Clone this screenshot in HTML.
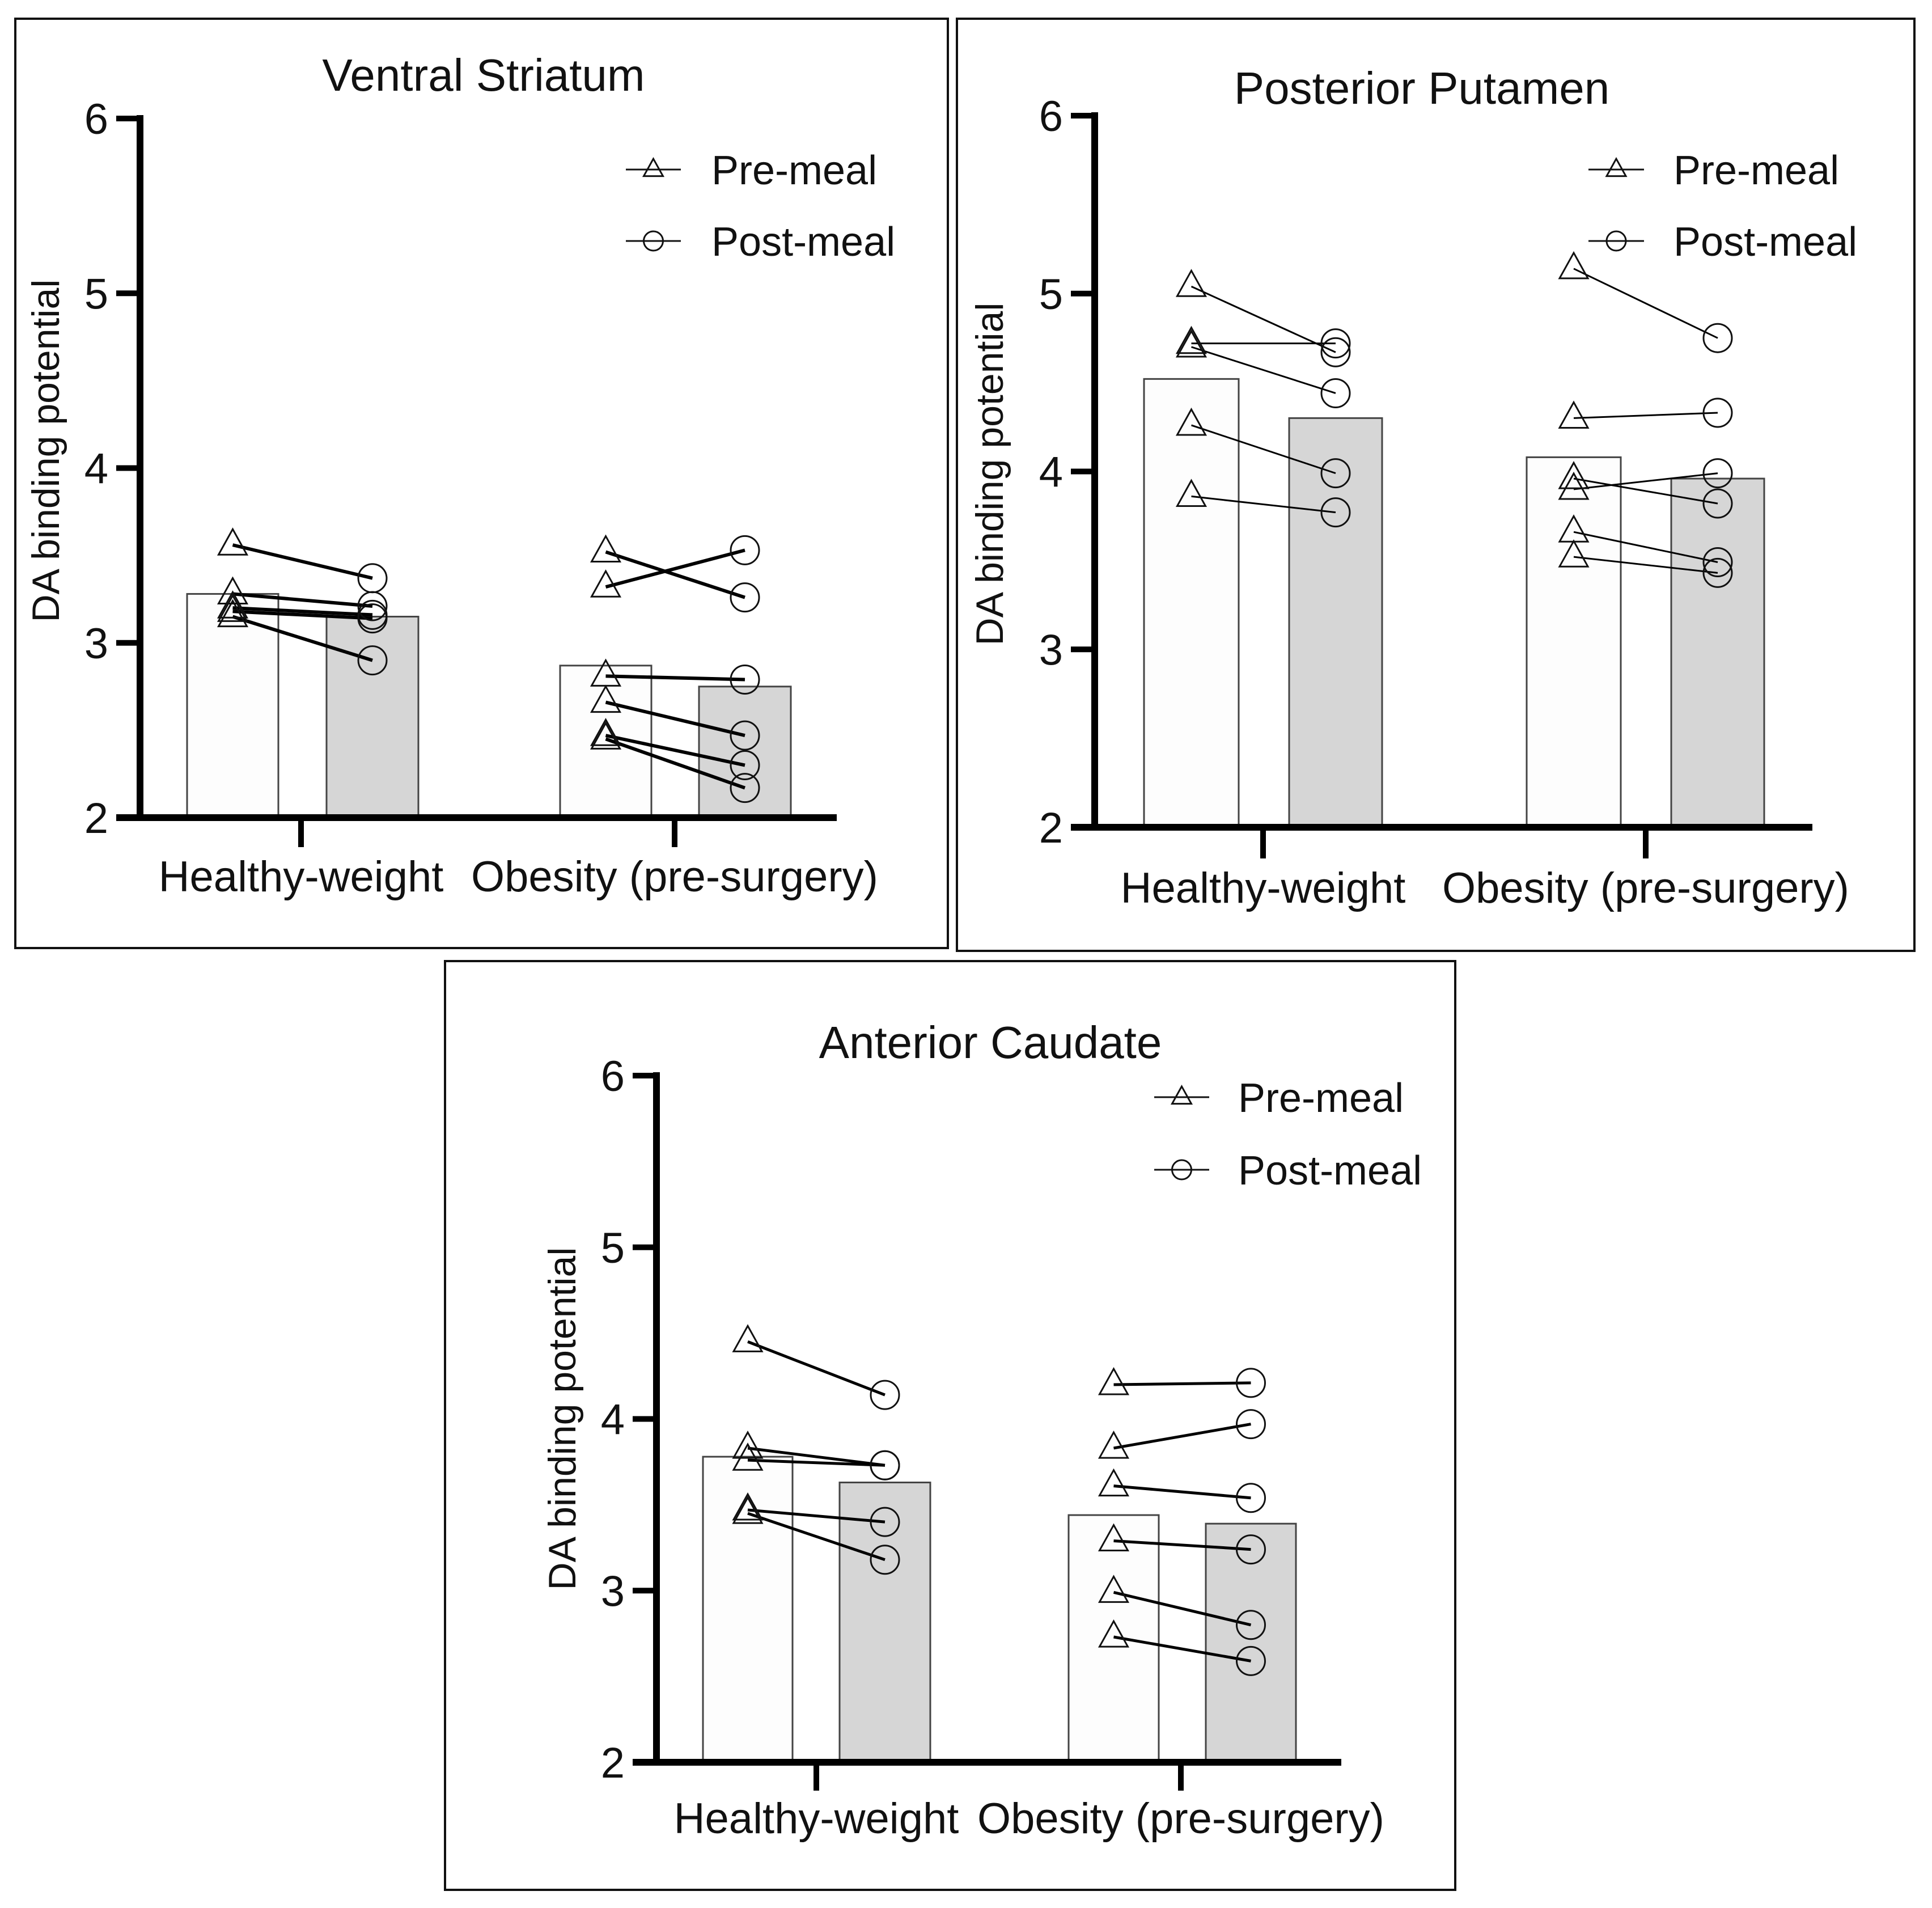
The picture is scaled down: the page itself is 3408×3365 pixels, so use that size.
<!DOCTYPE html>
<html><head><meta charset="utf-8">
<style>
html,body{margin:0;padding:0;background:#fff;}
svg{display:block;font-family:"Liberation Sans",Arial,sans-serif;}
</style></head>
<body>
<svg id="fig" width="3408" height="3365" viewBox="0 0 3408 3365" xmlns="http://www.w3.org/2000/svg">
<rect x="0" y="0" width="3408" height="3365" fill="#fff"/>
</svg>
<script>
// ---- data ----
const groups = ["Healthy-weight", "Obesity (pre-surgery)"];
const yTicks = [2, 3, 4, 5, 6];
const titles = ["Ventral Striatum", "Posterior Putamen", "Anterior Caudate"];
// bar means [HW pre, HW post, Ob pre, Ob post]
const barsVS = [3.28, 3.15, 2.87, 2.75];
const barsPP = [4.52, 4.30, 4.08, 3.96];
const barsAC = [3.78, 3.63, 3.44, 3.39];
// paired subjects [pre, post]
const vsHealthyPre = [3.56, 3.28, 3.20, 3.18, 3.15];
const vsHealthyPost = [3.37, 3.21, 3.16, 3.14, 2.90];
const vsObesePre = [3.52, 3.32, 2.81, 2.66, 2.47, 2.45];
const vsObesePost = [3.26, 3.53, 2.79, 2.47, 2.30, 2.17];
const ppHealthyPre = [5.04, 4.72, 4.70, 4.26, 3.86];
const ppHealthyPost = [4.67, 4.72, 4.44, 3.99, 3.77];
const ppObesePre = [5.14, 4.30, 3.96, 3.90, 3.66, 3.52];
const ppObesePost = [4.75, 4.33, 3.82, 3.99, 3.49, 3.43];
const acHealthyPre = [4.45, 3.83, 3.76, 3.47, 3.45];
const acHealthyPost = [4.14, 3.73, 3.73, 3.40, 3.18];
const acObesePre = [4.20, 3.83, 3.61, 3.29, 2.99, 2.73];
const acObesePost = [4.21, 3.97, 3.54, 3.24, 2.80, 2.59];

const NS = "http://www.w3.org/2000/svg";
const svg = document.getElementById('fig');
function mk(tag, attrs, parent, text) {
  const e = document.createElementNS(NS, tag);
  for (const k in attrs) e.setAttribute(k, attrs[k]);
  if (text !== undefined) e.textContent = text;
  (parent || svg).appendChild(e);
  return e;
}

const layouts = [
  {border:[27,33,1672,1672], ax:247, y6:209, y2:1442, xEnd:1476, bars:[[330,491],[576,738],[988,1149],[1233,1395]], ticks:[531,1190], tickBot:1494, titleX:853, titleY:160, legX1:1104, legX2:1201, legY:[299,425], legTX:1255, xLabY:1572, yLabX:81, yLabC:795, lw:6,
   bars_d:barsVS, hp:vsHealthyPre, hq:vsHealthyPost, op:vsObesePre, oq:vsObesePost},
  {border:[1688,33,3377,1677], ax:1931, y6:204, y2:1459, xEnd:3197, bars:[[2018,2185],[2274,2438],[2693,2859],[2948,3112]], ticks:[2228,2903], tickBot:1514, titleX:2508, titleY:183, legX1:2802, legX2:2900, legY:[299,425], legTX:2952, xLabY:1592, yLabX:1746, yLabC:836, lw:3,
   bars_d:barsPP, hp:ppHealthyPre, hq:ppHealthyPost, op:ppObesePre, oq:ppObesePost},
  {border:[785,1695,2567,3333], ax:1158, y6:1897, y2:3108, xEnd:2366, bars:[[1240,1398],[1481,1641],[1885,2044],[2127,2286]], ticks:[1440,2083], tickBot:3158, titleX:1747, titleY:1866, legX1:2036, legX2:2133, legY:[1935,2063], legTX:2184, xLabY:3233, yLabX:992, yLabC:2502, lw:5,
   bars_d:barsAC, hp:acHealthyPre, hq:acHealthyPost, op:acObesePre, oq:acObesePost}
];
const panelNames = ['ventral-striatum', 'posterior-putamen', 'anterior-caudate'];

function tri(g, cx, cy, s) {
  const h = s * 0.9;
  return mk('polygon', {points:`${cx},${cy-h*0.62} ${cx-s/2},${cy+h*0.38} ${cx+s/2},${cy+h*0.38}`, fill:'none', stroke:'#111', 'stroke-width':3}, g);
}

layouts.forEach((L, pi) => {
  const g = mk('g', {});
  
  
  const yS = v => L.y2 - (v - 2) * (L.y2 - L.y6) / 4;
  const b = L.border;
  const br = mk('rect', {x:b[0], y:b[1], width:b[2]-b[0], height:b[3]-b[1], fill:'none', stroke:'#111', 'stroke-width':4}, g);
  
  
  const t = mk('text', {x:L.titleX, y:L.titleY, 'font-size':80, 'text-anchor':'middle', fill:'#111'}, g, titles[pi]);
  
  
  L.bars_d.forEach((v, i) => {
    const [x1, x2] = L.bars[i];
    const r = mk('rect', {x:x1, y:yS(v), width:x2-x1, height:L.y2-yS(v), fill:(i%2? '#d6d6d6':'#fdfdfd'), stroke:'#444', 'stroke-width':3}, g);
    
    
  });
  const ya = mk('line', {x1:L.ax, y1:L.y6-6, x2:L.ax, y2:L.y2+6, stroke:'#000', 'stroke-width':12}, g);
  
  
  const xa = mk('line', {x1:L.ax-42, y1:L.y2, x2:L.xEnd, y2:L.y2, stroke:'#000', 'stroke-width':12}, g);
  
  
  yTicks.forEach(v => {
    mk('line', {x1:L.ax-42, y1:yS(v), x2:L.ax, y2:yS(v), stroke:'#000', 'stroke-width':10}, g);
    const tl = mk('text', {x:L.ax-56, y:yS(v)+27, 'font-size':76, 'text-anchor':'end', fill:'#111'}, g, String(v));
    
    
  });
  L.ticks.forEach((x, i) => {
    mk('line', {x1:x, y1:L.y2, x2:x, y2:L.tickBot, stroke:'#000', 'stroke-width':10}, g);
    const xl = mk('text', {x:x, y:L.xLabY, 'font-size':76, 'text-anchor':'middle', fill:'#111'}, g, groups[i]);
    
    
  });
  const yl = mk('text', {x:L.yLabX, y:L.yLabC, 'font-size':68, 'text-anchor':'middle', fill:'#111', transform:`rotate(-90 ${L.yLabX} ${L.yLabC})`, dy:23}, g, 'DA binding potential');
  
  
  const cx = L.bars.map(p => (p[0]+p[1])/2);
  [[L.hp, L.hq, 0], [L.op, L.oq, 2]].forEach(([pre, post, bi]) => {
    pre.forEach((v, k) => {
      const ln = mk('line', {x1:cx[bi], y1:yS(v), x2:cx[bi+1], y2:yS(post[k]), stroke:'#000', 'stroke-width':L.lw}, g);
      
      
    });
    pre.forEach(v => {
      const m = tri(g, cx[bi], yS(v), 50);
      
      
    });
    post.forEach(v => {
      const c = mk('circle', {cx:cx[bi+1], cy:yS(v), r:25, fill:'none', stroke:'#111', 'stroke-width':3}, g);
      
      
    });
  });
  const labels = ['Pre-meal', 'Post-meal'];
  L.legY.forEach((y, i) => {
    const lg = mk('g', {}, g);
    
    
    mk('line', {x1:L.legX1, y1:y, x2:L.legX2, y2:y, stroke:'#111', 'stroke-width':3}, lg);
    const mx = (L.legX1 + L.legX2) / 2;
    if (i === 0) tri(lg, mx, y, 34); else mk('circle', {cx:mx, cy:y, r:17, fill:'none', stroke:'#111', 'stroke-width':3}, lg);
    mk('text', {x:L.legTX, y:y+26, 'font-size':72, fill:'#111'}, lg, labels[i]);
  });
});
</script>
</body></html>
